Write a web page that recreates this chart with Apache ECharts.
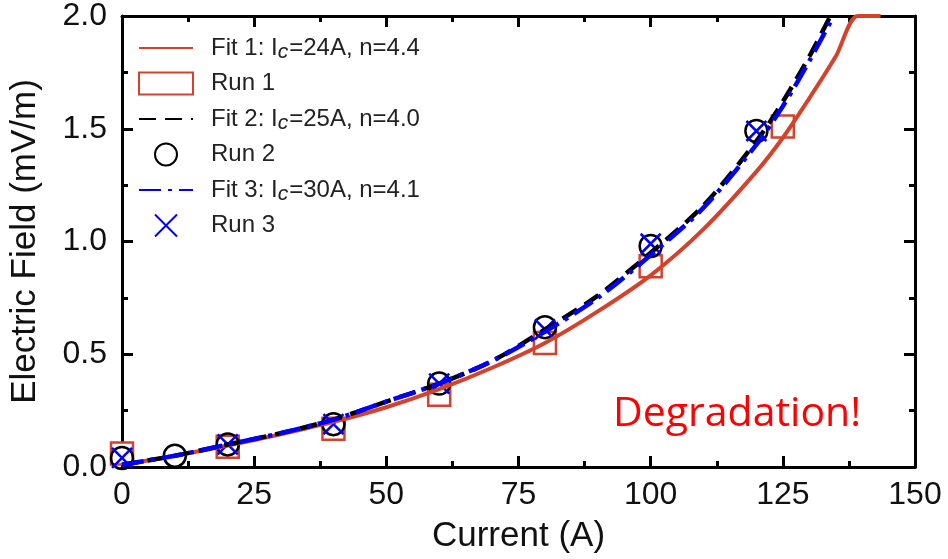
<!DOCTYPE html>
<html>
<head>
<meta charset="utf-8">
<script src="https://cdn.jsdelivr.net/npm/echarts@6/dist/echarts.min.js"></script>
<style>
  html, body { margin: 0; padding: 0; background: #fff; }
  #main { width: 948px; height: 559px; }
</style>
</head>
<body>
<div id="main"></div>
<script>
// fit curves
var fit1Current = [0, 10, 20, 30, 40, 50, 60, 70, 80, 90, 100, 110, 120, 125, 130, 135, 139.2, 143.5];
var fit1Field   = [0.01, 0.05, 0.095, 0.145, 0.2, 0.265, 0.345, 0.44, 0.55, 0.69, 0.85, 1.055, 1.31, 1.46, 1.635, 1.82, 2.0, 2.0];
var fit2Current = [0, 10, 20, 30, 40, 50, 60, 70, 80, 90, 100, 110, 120, 125, 130, 134];
var fit2Field   = [0.01, 0.05, 0.1, 0.15, 0.21, 0.29, 0.37, 0.47, 0.61, 0.76, 0.95, 1.16, 1.445, 1.62, 1.82, 2.0];
var fit3Current = [0, 10, 20, 30, 40, 50, 60, 70, 80, 90, 100, 110, 120, 125, 130, 134.6];
var fit3Field   = [0.01, 0.05, 0.1, 0.15, 0.21, 0.29, 0.37, 0.47, 0.6, 0.75, 0.94, 1.15, 1.43, 1.6, 1.8, 2.0];

// measured runs
var run1Current = [0, 20, 40, 60, 80, 100, 125];
var run1Field   = [0.06, 0.09, 0.17, 0.32, 0.55, 0.89, 1.51];
var run2Current = [0, 10, 20, 40, 60, 80, 100, 120];
var run2Field   = [0.04, 0.05, 0.1, 0.19, 0.37, 0.62, 0.98, 1.49];
var run3Current = [0, 20, 40, 60, 80, 100, 120];
var run3Field   = [0.04, 0.1, 0.19, 0.37, 0.61, 0.99, 1.49];

var xTicks = [0, 25, 50, 75, 100, 125, 150];
var yTicks = [0.0, 0.5, 1.0, 1.5, 2.0];

function pairs(xs, ys) {
    return xs.map(function (x, i) { return [x, ys[i]]; });
}

var red = '#D4422C';
var font = 'Liberation Sans, Arial, sans-serif';

var myChart = echarts.init(document.getElementById('main'));

// major ticks: long, on the frame line
function majorAxis(extra) {
    return Object.assign({
        type: 'value',
        axisLine: { show: true, onZero: false, lineStyle: { color: '#000', width: 3 } },
        axisTick: { show: true, inside: true, length: 11, lineStyle: { color: '#000', width: 3 } },
        axisLabel: { show: false },
        splitLine: { show: false }
    }, extra);
}
// minor ticks: short, half interval, no line
function minorAxis(extra) {
    return Object.assign({
        type: 'value',
        axisLine: { show: false, onZero: false },
        axisTick: { show: true, inside: true, length: 6, lineStyle: { color: '#000', width: 3 } },
        axisLabel: { show: false },
        splitLine: { show: false }
    }, extra);
}

var tickFont = { fontFamily: font, fontSize: 32, color: '#111' };
var nameFont = { fontFamily: font, fontSize: 35, color: '#111' };

var option = {
    animation: false,
    backgroundColor: '#fff',
    grid: { left: 118, right: 33, top: 13, bottom: 92 },
    legend: {
        orient: 'vertical',
        left: 138,
        top: 33,
        padding: 0,
        itemWidth: 54,
        itemHeight: 22,
        itemGap: 8.5,
        selectedMode: false,
        textStyle: {
            fontFamily: font,
            fontSize: 24,
            lineHeight: 24,
            color: '#222',
            padding: [0, 0, 0, 13],
            rich: {
                sub: { fontFamily: font, fontSize: 21, lineHeight: 24, fontStyle: 'italic', color: '#222', padding: [9, 1, 0, 0] }
            }
        },
        formatter: function (name) { return name.replace('Ic', 'I{sub|c}'); },
        data: [
            { name: 'Fit 1: Ic=24A, n=4.4', itemStyle: { opacity: 0 } },
            'Run 1',
            { name: 'Fit 2: Ic=25A, n=4.0', itemStyle: { opacity: 0 } },
            'Run 2',
            { name: 'Fit 3: Ic=30A, n=4.1', itemStyle: { opacity: 0 } },
            'Run 3'
        ]
    },
    xAxis: [
        majorAxis({
            position: 'bottom', min: 0, max: 150, interval: 25,
            name: 'Current (A)',
            nameLocation: 'middle',
            nameGap: 52,
            nameTextStyle: nameFont,
            axisLabel: Object.assign({ show: true, margin: 12,
                formatter: function (v) { return xTicks.indexOf(v) >= 0 ? String(v) : ''; } }, tickFont)
        }),
        majorAxis({ position: 'top', min: 0, max: 150, interval: 25 }),
        minorAxis({ position: 'bottom', min: 0, max: 150, interval: 12.5 }),
        minorAxis({ position: 'top', min: 0, max: 150, interval: 12.5 })
    ],
    yAxis: [
        majorAxis({
            position: 'left', min: 0, max: 2, interval: 0.5,
            name: 'Electric Field (mV/m)',
            nameLocation: 'middle',
            nameGap: 79,
            nameTextStyle: nameFont,
            axisLabel: Object.assign({ show: true, margin: 15,
                formatter: function (v) { return yTicks.indexOf(v) >= 0 ? v.toFixed(1) : ''; } }, tickFont)
        }),
        majorAxis({ position: 'right', min: 0, max: 2, interval: 0.5 }),
        minorAxis({ position: 'left', min: 0, max: 2, interval: 0.25 }),
        minorAxis({ position: 'right', min: 0, max: 2, interval: 0.25 })
    ],
    graphic: [{
        type: 'text',
        left: 613,
        top: 394,
        style: { text: 'Degradation!', fontFamily: 'Open Sans, Noto Sans, sans-serif', fontSize: 41, fill: '#FF0000' }
    }],
    series: [
        {
            name: 'Fit 1: Ic=24A, n=4.4',
            type: 'line',
            smooth: 0.3,
            symbol: 'none',
            lineStyle: { color: red, width: 4 },
            itemStyle: { color: red },
            data: pairs(fit1Current, fit1Field)
        },
        {
            name: 'Run 1',
            type: 'scatter',
            symbol: 'rect',
            symbolSize: 22,
            symbolKeepAspect: true,
            itemStyle: { color: '#fff', borderColor: red, borderWidth: 2.5, opacity: 1 },
            data: pairs(run1Current, run1Field)
        },
        {
            name: 'Fit 2: Ic=25A, n=4.0',
            type: 'line',
            smooth: 0.3,
            symbol: 'none',
            lineStyle: { color: '#000', width: 4.5, type: [17, 9] },
            itemStyle: { color: '#000' },
            data: pairs(fit2Current, fit2Field)
        },
        {
            name: 'Run 2',
            type: 'scatter',
            symbol: 'circle',
            symbolSize: 22,
            itemStyle: { color: 'rgba(255,255,255,0)', borderColor: '#000', borderWidth: 2.5, opacity: 1 },
            data: pairs(run2Current, run2Field)
        },
        {
            name: 'Fit 3: Ic=30A, n=4.1',
            type: 'line',
            smooth: 0.3,
            symbol: 'none',
            lineStyle: { color: '#0000FF', width: 4.5, type: [22, 7, 4, 7] },
            itemStyle: { color: '#0000FF' },
            data: pairs(fit3Current, fit3Field)
        },
        {
            name: 'Run 3',
            type: 'scatter',
            symbol: 'path://M0,0L10,10M10,0L0,10',
            symbolSize: 20,
            itemStyle: { color: 'rgba(0,0,0,0)', borderColor: '#0000FF', borderWidth: 2.5, opacity: 1 },
            data: pairs(run3Current, run3Field)
        }
    ]
};

myChart.setOption(option, true);
window.onresize = myChart.resize;
</script>
</body>
</html>
